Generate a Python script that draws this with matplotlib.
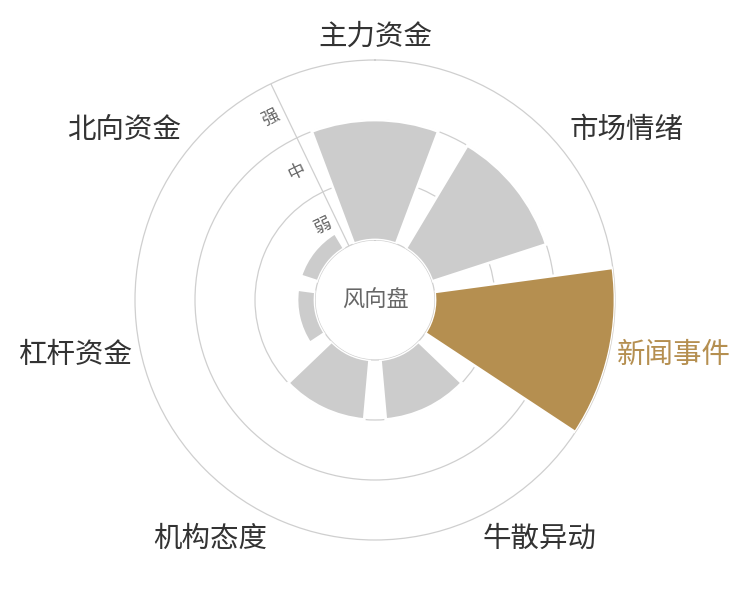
import numpy as np
import matplotlib
matplotlib.use("Agg")
from matplotlib import pyplot as plt

plt.rcParams['font.family'] = ['Noto Sans CJK SC', 'DejaVu Sans']

# -------- data ----------#
categories = ['主力资金', '市场情绪', '新闻事件', '牛散异动', '机构态度', '杠杆资金', '北向资金']
values = [2.0, 2.0, 3.0, 1.0, 1.0, 0.3, 0.3]
highlight = '新闻事件'
levels = ['弱', '中', '强']
level_pos = [0.5, 1.5, 2.5]
# -------- data end ----------#

gray = '#cccccc'
gold = '#b58f50'
grid_c = '#cfcfcf'

fig = plt.figure(figsize=(7.5, 6), dpi=100)
ax = fig.add_axes([0.18, 0.1, 0.64, 0.8], projection='polar')
ax.set_theta_zero_location('N')
ax.set_theta_direction(-1)

n = len(categories)
step = 2 * np.pi / n
theta = np.arange(n) * step
colors = [gold if c == highlight else gray for c in categories]

ax.bar(theta, values, width=step * 0.8, bottom=0, color=colors,
       edgecolor='white', linewidth=2, zorder=3)

ax.set_rorigin(-1)
ax.set_ylim(0, 3)
ax.set_yticks([1, 2])
ax.set_yticklabels([])
ax.set_xticks([])
ax.yaxis.grid(True, color=grid_c, linewidth=0.9)
ax.xaxis.grid(False)
ax.set_axisbelow(True)
for name, sp in ax.spines.items():
    sp.set_color(grid_c)
    sp.set_linewidth(0.9)

# radius axis line on the boundary between first and last sector
ax_ang = -step / 2
ax.plot([ax_ang, ax_ang], [0, 3], color=grid_c, linewidth=0.9, zorder=2)
perp = np.deg2rad(90 + np.rad2deg(step / 2) + 90)
for lab, r in zip(levels, level_pos):
    ax.annotate(lab, xy=(ax_ang, r), xytext=(11 * np.cos(perp), 11 * np.sin(perp)),
                textcoords='offset points', rotation=np.rad2deg(step / 2),
                ha='center', va='center', fontsize=12.5, color='#666666',
                rotation_mode='anchor', zorder=4)

# category labels
for t, c in zip(theta, categories):
    s, co = np.sin(t), np.cos(t)
    ha = 'left' if s > 0.1 else ('right' if s < -0.1 else 'center')
    va = 'bottom' if co > 0.3 else ('top' if co < -0.3 else 'center')
    ax.annotate(c, xy=(t, 3), xytext=(6 * s, 6 * co), textcoords='offset points',
                ha=ha, va=va, fontsize=20.5,
                color=gold if c == highlight else '#333333',
                annotation_clip=False)

ax.text(0.5, 0.5, '风向盘', transform=ax.transAxes, ha='center', va='center',
        fontsize=16, color='#666666')

fig.savefig('out.png', dpi=100, facecolor='white')
